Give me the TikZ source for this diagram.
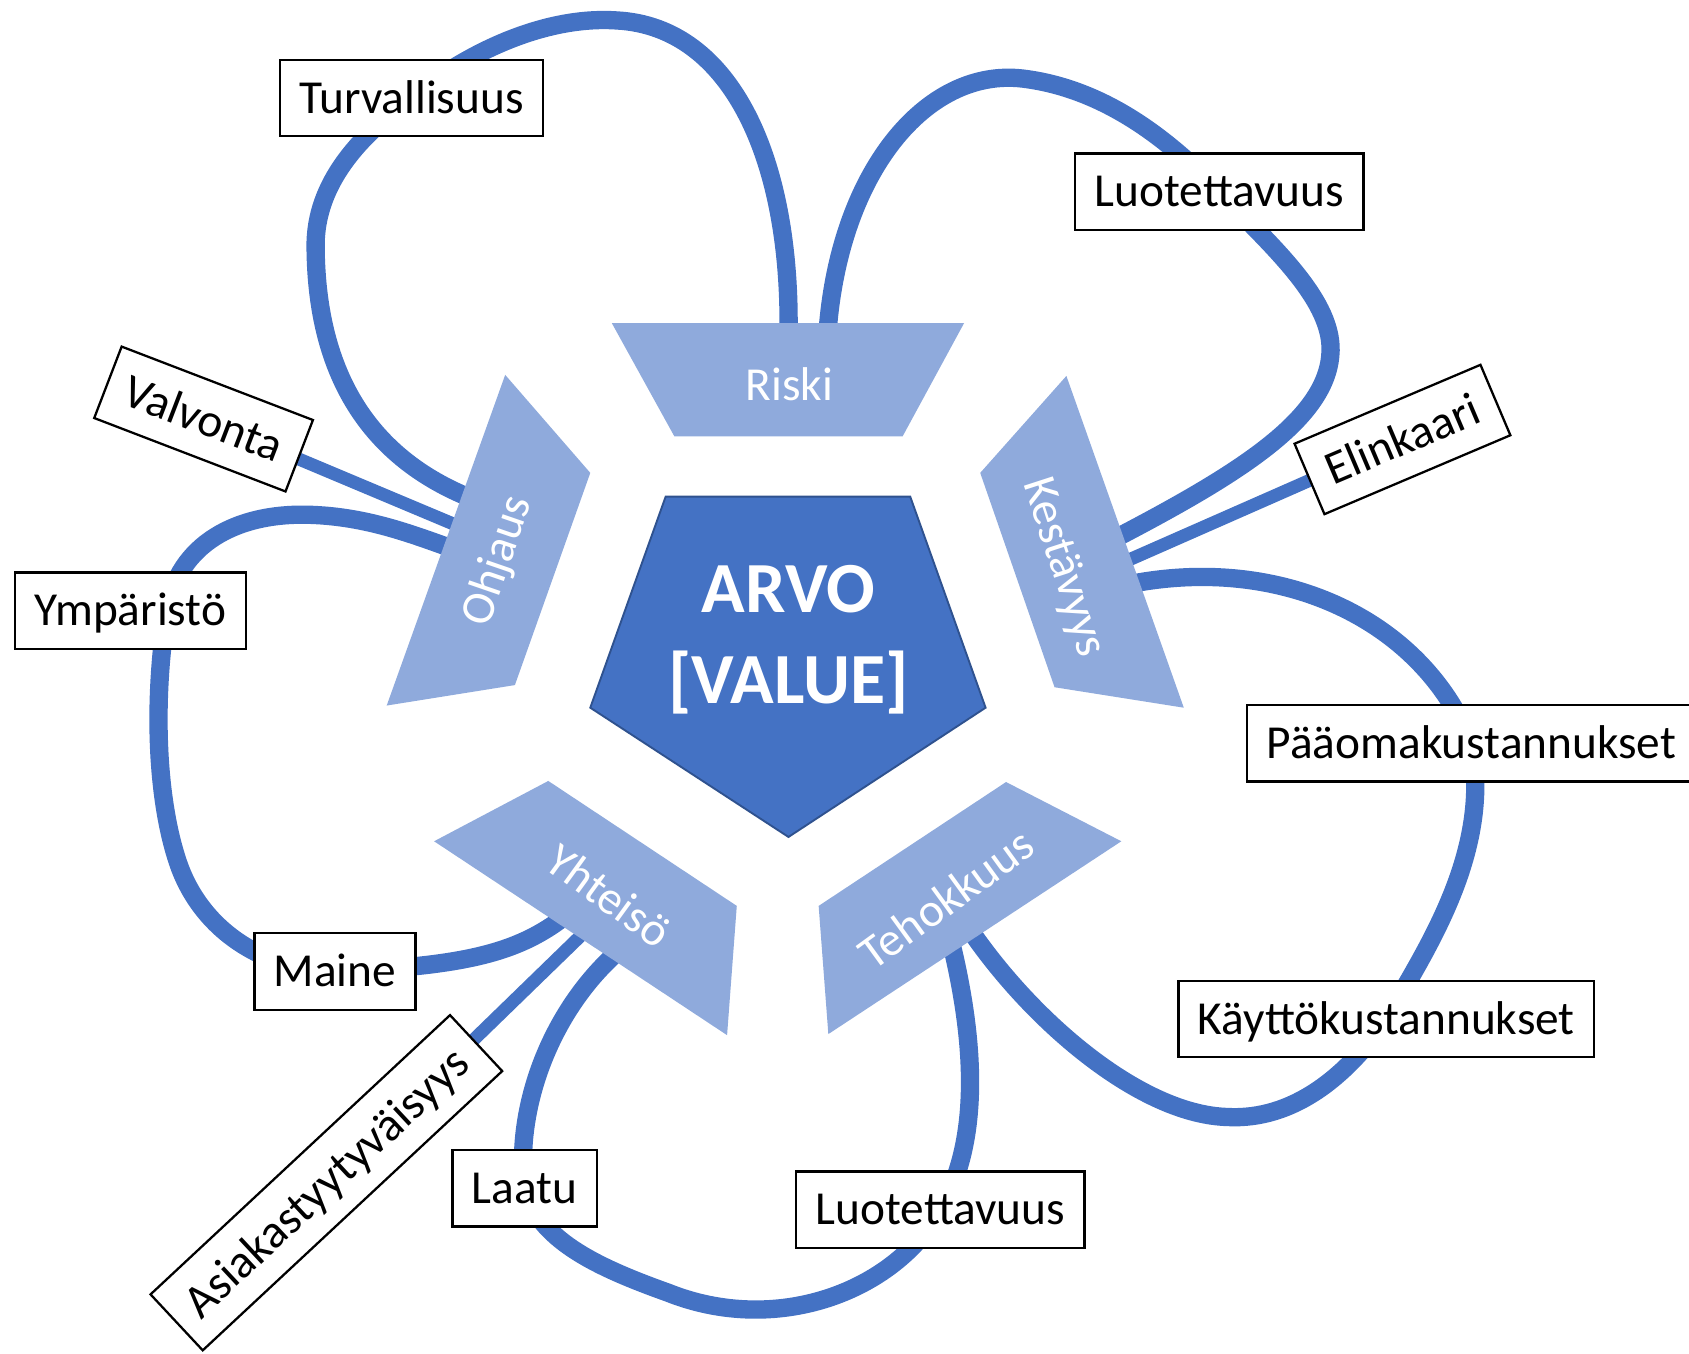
\documentclass[tikz,border=0pt]{standalone}
\usepackage{fontspec}
\setmainfont{Carlito}
\usepackage{tikz}
\usetikzlibrary{backgrounds}
\usepackage{xcolor}
\definecolor{ublue}{RGB}{68,114,196}
\definecolor{ulight}{RGB}{143,170,220}
\definecolor{udark}{RGB}{47,82,143}

\begin{document}
\begin{tikzpicture}[x=0.01cm, y=-0.01cm,
	lbl/.style={draw=black, fill=white, line width=0.6pt, minimum height=0.71cm, inner xsep=0.18cm, text height=8pt, text depth=0pt, font=\fontsize{12.5}{15}\selectfont},
	seg/.style={text=white, text height=8pt, text depth=0pt, font=\fontsize{12.5}{15}\selectfont},
	band/.style={line width=0.17cm, color=ublue},
	spoke/.style={line width=0.12cm, color=ublue}]
	\useasboundingbox (0,0) rectangle (1568,1257);
	
	% the five pieces round the middle
	\fill[ulight] (568,300) -- (895,300) -- (838,405) -- (626,405) -- cycle;
	\fill[ulight] (469,348) -- (548,439) -- (478,636) -- (359,655) -- cycle;
	\fill[ulight] (990,349) -- (1099,657) -- (979,638) -- (910,439) -- cycle;
	\fill[ulight] (403,781) -- (509,725) -- (684,841) -- (675,961) -- cycle;
	\fill[ulight] (934,726) -- (1041,781) -- (769,960) -- (760,841) -- cycle;
	\filldraw[fill=ublue, draw=udark, line width=0.5pt] (618,461) -- (845,461) -- (915,657) -- (732,777) -- (548,657) -- cycle;
	
	\node[text=white, font=\bfseries\fontsize{19}{24}\selectfont, align=center] (arvo) at (732,594) {ARVO\\{}[VALUE]};
	\node[seg] (riski) at (733,358) {Riski};
	\node[seg, rotate=71] (ohjaus) at (460,520) {Ohjaus};
	\node[seg, rotate=-72] (kestavyys) at (990,526) {Kestävyys};
	\node[seg, rotate=-36] (yhteiso) at (565,832) {Yhteisö};
	\node[seg, rotate=36] (tehokkuus) at (879,835) {Tehokkuus};
	
	\node[lbl] (turv) at (382,91) {Turvallisuus};
	\node[lbl] (luo1) at (1132,178) {Luotettavuus};
	\node[lbl, rotate=-21] (valv) at (189,389) {Valvonta};
	\node[lbl] (ymp) at (121,567) {Ympäristö};
	\node[lbl, rotate=23] (elin) at (1302,408) {Elinkaari};
	\node[lbl] (paao) at (1366,690) {Pääomakustannukset};
	\node[lbl] (kayt) at (1287,946) {Käyttökustannukset};
	\node[lbl] (luo2) at (873,1123) {Luotettavuus};
	\node[lbl] (laatu) at (487,1103) {Laatu};
	\node[lbl] (maine) at (311,902) {Maine};
	\node[lbl, rotate=43] (asia) at (303,1098) {Asiakastyytyväisyys};
	
	% where the bands leave the pieces
	\coordinate (riskiA) at (732,312);
	\coordinate (riskiB) at (768,312);
	\coordinate (kestB) at (1035,500);
	\coordinate (kestC) at (1043,522);
	\coordinate (kestD) at (1050,542);
	\coordinate (tehoD) at (901,864);
	\coordinate (tehoE) at (883,875);
	\coordinate (yhtE) at (573,884);
	\coordinate (yhtF) at (544,864);
	\coordinate (yhtG) at (524,851);
	\coordinate (ohjG) at (419,509);
	\coordinate (ohjH) at (427,489);
	\coordinate (ohjA) at (436,462);
	
	\begin{scope}[on background layer]
	\draw[band] (riskiA) .. controls (735,150) and (680,25) .. (573,19) .. controls (500,14) and (425,55) .. (turv.center) .. controls (335,125) and (292,170) .. (293,230) .. controls (294,350) and (345,425) .. (ohjA);
	\draw[band] (riskiB) .. controls (778,160) and (860,62) .. (950,73) .. controls (1030,83) and (1090,135) .. (luo1.center) .. controls (1180,228) and (1240,280) .. (1235,330) .. controls (1230,390) and (1150,440) .. (kestB);
	\draw[spoke] (kestC) -- (elin.center);
	\draw[band] (kestD) .. controls (1190,515) and (1320,575) .. (paao.center) .. controls (1385,790) and (1325,880) .. (kayt.center) .. controls (1250,1000) and (1200,1040) .. (1140,1037) .. controls (1060,1035) and (960,950) .. (tehoD);
	\draw[band] (tehoE) .. controls (906,970) and (910,1060) .. (luo2.center) .. controls (830,1200) and (720,1240) .. (620,1200) .. controls (550,1175) and (500,1150) .. (laatu.center) .. controls (478,1030) and (510,940) .. (yhtE);
	\draw[spoke] (yhtF) -- (asia.center);
	\draw[band] (yhtG) .. controls (480,885) and (430,897) .. (maine.center) .. controls (240,900) and (185,860) .. (165,800) .. controls (145,740) and (142,650) .. (155,567) .. controls (165,505) and (220,475) .. (290,478) .. controls (340,480) and (380,495) .. (ohjG);
	\draw[spoke] (ohjH) -- (valv.center);
	\end{scope}
	
\end{tikzpicture}
\end{document}
